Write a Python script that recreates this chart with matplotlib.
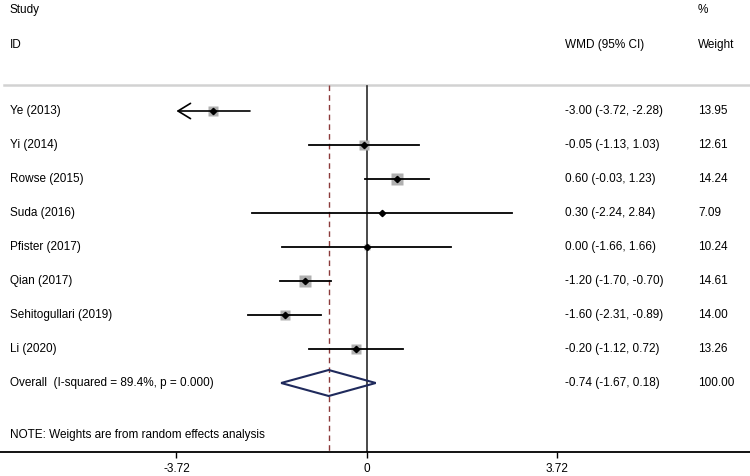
import numpy as np
import matplotlib
matplotlib.use("Agg")
import matplotlib.pyplot as plt

plt.rcParams['font.family'] = ['Liberation Sans', 'DejaVu Sans']

# study data
studies = ["Ye (2013)", "Yi (2014)", "Rowse (2015)", "Suda (2016)", "Pfister (2017)",
           "Qian (2017)", "Sehitogullari (2019)", "Li (2020)"]
wmd = [-3.00, -0.05, 0.60, 0.30, 0.00, -1.20, -1.60, -0.20]
ci_lo = [-3.72, -1.13, -0.03, -2.24, -1.66, -1.70, -2.31, -1.12]
ci_hi = [-2.28, 1.03, 1.23, 2.84, 1.66, -0.70, -0.89, 0.72]
weights = [13.95, 12.61, 14.24, 7.09, 10.24, 14.61, 14.00, 13.26]

overall_label = "Overall  (I-squared = 89.4%, p = 0.000)"
overall = [-0.74, -1.67, 0.18]
overall_weight = 100.00
note = "NOTE: Weights are from random effects analysis"
xticks = [-3.72, 0, 3.72]

W, H = 750, 476
fig = plt.figure(figsize=(W / 100, H / 100), dpi=100)
ax_bottom = 451.7
px_per_unit = 51.1
x_zero = 366.5
ax = fig.add_axes([0, (H - ax_bottom) / H, 1, ax_bottom / H])
ax.set_xlim(-x_zero / px_per_unit, (W - x_zero) / px_per_unit)
ax.set_ylim(ax_bottom, 0)
for s in ['top', 'left', 'right']:
    ax.spines[s].set_visible(False)
ax.spines['bottom'].set_linewidth(1.3)
ax.set_yticks([])
ax.set_xticks(xticks)
ax.set_xticklabels(["-3.72", "0", "3.72"])
ax.tick_params(axis='x', length=4, width=1.0, labelsize=8.5, pad=4)

fs = 8.5
txt = ax.get_yaxis_transform()

# headers
ax.text(10 / W, 10, "Study", transform=txt, fontsize=fs, va='center')
ax.text(698 / W, 10, "%", transform=txt, fontsize=fs, va='center')
ax.text(10 / W, 45, "ID", transform=txt, fontsize=fs, va='center')
ax.text(565 / W, 45, "WMD (95% CI)", transform=txt, fontsize=fs, va='center')
ax.text(698 / W, 45, "Weight", transform=txt, fontsize=fs, va='center')

# separator line
ax.plot([4 / W, 1], [84.7, 84.7], transform=txt, color='#d2d2d2', lw=1.8)

# reference lines
ax.plot([0, 0], [86, ax_bottom], color='#2b2b2b', lw=1.2)
ax.plot([overall[0], overall[0]], [84.7, ax_bottom], color='#8b3a3a',
        lw=1.0, ls=(0, (4, 3)))

row0, step = 111, 34
xmin = xticks[0]
for i, name in enumerate(studies):
    y = row0 + step * i
    lo, hi, est, wt = ci_lo[i], ci_hi[i], wmd[i], weights[i]
    side = max(wt - 4.0, 0.5) * 0.78
    ax.plot(est, y, marker='s', ms=side, color='#b0b0b0', mec='none', zorder=2)
    if lo <= xmin:
        ax.annotate('', xy=(xmin, y), xytext=(hi, y),
                    arrowprops=dict(arrowstyle='->, head_length=0.9, head_width=0.55',
                                    lw=1.2, color='black', shrinkA=0, shrinkB=0),
                    zorder=3)
    else:
        ax.plot([lo, hi], [y, y], color='black', lw=1.3, zorder=3)
    ax.plot(est, y, marker='D', ms=3.2, color='black', zorder=4)
    ax.text(10 / W, y, name, transform=txt, fontsize=fs, va='center')
    ax.text(565 / W, y, f"{est:.2f} ({lo:.2f}, {hi:.2f})", transform=txt,
            fontsize=fs, va='center')
    ax.text(698 / W, y, f"{wt:.2f}", transform=txt, fontsize=fs, va='center')

# overall diamond
y = row0 + step * len(studies)
est, lo, hi = overall
ax.fill([lo, est, hi, est, lo], [y, y - 13, y, y + 13, y], fc='none',
        ec='#1f2a5c', lw=1.5, zorder=5)
ax.text(10 / W, y, overall_label, transform=txt, fontsize=fs, va='center')
ax.text(565 / W, y, f"{est:.2f} ({lo:.2f}, {hi:.2f})", transform=txt,
        fontsize=fs, va='center')
ax.text(698 / W, y, f"{overall_weight:.2f}", transform=txt, fontsize=fs, va='center')

ax.text(10 / W, 435, note, transform=txt, fontsize=fs, va='center')

fig.savefig("out.png", dpi=100)
